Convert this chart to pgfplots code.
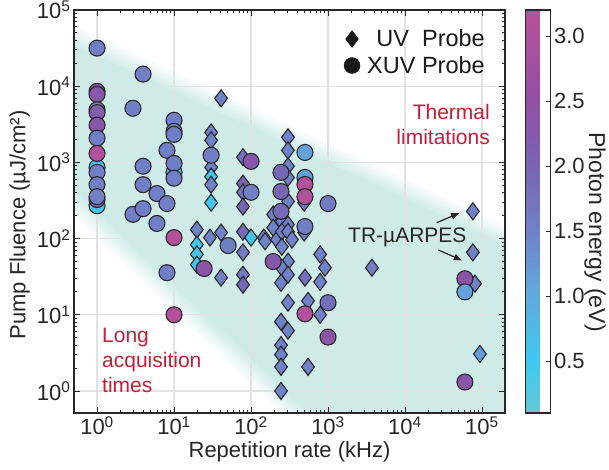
\documentclass[border=0pt]{standalone}
\usepackage{pgfplots}
\pgfplotsset{compat=1.18}
\usepackage{pgfplotstable}
\usepackage{fontspec}
\setmainfont{Liberation Sans}
\usetikzlibrary{arrows.meta}
\definecolor{axgray}{RGB}{40,40,40}
\definecolor{gridgray}{RGB}{226,226,226}
\definecolor{bandteal}{RGB}{206,235,232}
\definecolor{annred}{RGB}{196,30,58}
\pgfplotsset{
  colormap={photon}{rgb255(0cm)=(100,200,212) rgb255(4cm)=(64,200,240) rgb255(9cm)=(95,170,222) rgb255(14cm)=(112,130,200) rgb255(19cm)=(120,100,180) rgb255(24cm)=(145,80,162) rgb255(31cm)=(185,80,155)}
}
\pgfplotstableread{
x y c
40.8 6940 1.5
30.3 2470 1.55
30.3 1950 1.5
30.3 860 1.55
30.3 650 0.55
30.3 510 1.5
30.3 296 0.55
19.8 131 1.5
19.8 83 0.55
19.8 62 0.55
19.8 45.5 0.55
29.3 103 1.5
40.8 120 1.5
40.8 30.7 1.55
78.6 1170 1.8
78.6 527 2.0
78.6 405 1.8
78.6 263 2.0
78.6 123 1.9
78.6 66 1.6
78.6 33.6 1.6
78.6 24.8 1.9
100 103 0.55
147 103 1.5
194 207 1.55
194 139 1.5
217 97 1.5
302 2140 1.5
302 1440 1.5
302 890 1.5
302 630 1.5
302 308 1.55
251 167 1.5
302 153 1.5
251 123 1.55
302 123 1.5
340 97 1.5
152 92 1.5
251 78 1.5
790 62 1.5
912 41.5 1.5
302 50 1.5
251 41.5 1.55
302 33.6 1.5
502 30.7 1.8
790 27 1.5
245 26.3 1.5
3720 41.5 1.6
302 14.4 1.5
550 15.2 1.5
790 10 1.5
245 8.1 1.5
302 6.2 1.5
245 4.0 1.5
245 3.0 1.5
245 2.07 1.5
550 2.07 1.5
245 1.0 1.5
76000 228 1.55
76000 66 1.55
81000 25.6 1.5
94000 3.06 1.15
490 296 1.6
490 120 1.6
}\uvdata
\pgfplotstableread{
x y c
1 860 0.55
1 270 0.55
1 31600 1.55
1 8550 2.3
1 7800 2.3
1 4900 1.55
1 4500 2.2
1 3080 2.3
1 2080 1.55
1 1310 3.1
1 740 1.55
1 510 1.55
1 325 2.2
1 355 1.55
2.93 5130 1.55
2.93 208 1.55
3.96 14400 1.55
3.96 890 1.55
3.96 510 1.55
3.96 247 1.55
6.0 390 1.55
6.0 158 1.55
8.1 1440 1.55
8.1 288 1.55
8.1 35.7 1.55
10 740 0.55
10 3570 1.55
10 2560 1.55
10 2330 1.55
10 970 1.55
10 620 1.55
10 103 3.1
10 10 3.1
50.4 81 1.55
24.6 40.5 2.4
194 50 2.3
30.3 1240 1.55
100 1030 2.3
100 405 1.55
502 1350 1.1
502 635 1.1
502 513 3.1
502 355 3.1
1000 288 1.6
502 144 1.55
1000 14.4 1.8
502 10.3 3.1
1000 5.1 2.4
245 740 1.9
245 415 2.0
245 228 1.9
60000 29.7 2.4
60000 20 1.1
60000 1.31 2.4
}\xuvdata
\begin{document}
\begin{tikzpicture}
\begin{axis}[
  at={(0pt,0pt)}, anchor=south west,
  scale only axis, width=431pt, height=403pt,
  set layers,
  xmode=log, ymode=log,
  xmin=0.502, xmax=1.99e5, ymin=0.514, ymax=1e5,
  xtick={1,10,100,1000,10000,100000},
  xticklabels={10\textsuperscript{0},10\textsuperscript{1},10\textsuperscript{2},10\textsuperscript{3},10\textsuperscript{4},10\textsuperscript{5}},
  ytick={1,10,100,1000,10000,100000},
  yticklabels={10\textsuperscript{0},10\textsuperscript{1},10\textsuperscript{2},10\textsuperscript{3},10\textsuperscript{4},10\textsuperscript{5}},
  tick pos=both, tick align=inside,
  major tick length=6pt, minor tick length=3.5pt,
  every tick/.style={axgray, line width=0.9pt},
  axis line style={axgray, line width=1.3pt},
  grid=major, major grid style={gridgray, line width=1.3pt},
  tick label style={font=\fontsize{22}{26}\selectfont, text=black!85},
  label style={font=\fontsize{22}{26}\selectfont, text=black!85},
  xlabel={Repetition rate (kHz)},
  ylabel={Pump Fluence (µJ/cm²)},
  every axis y label/.append style={at={(ticklabel cs:0.4665)}},
  colormap name=photon,
  point meta min=0.1, point meta max=3.2,
  colorbar,
  colorbar style={
    at={(parent axis.north east)}, anchor=north west, xshift=12pt,
    scale only axis, width=25pt, height=403pt,
    ytick={0.5,1,1.5,2,2.5,3},
    yticklabels={0.5,1.0,1.5,2.0,2.5,3.0},
    ytick pos=right, yticklabel pos=right, tick align=inside,
    major tick length=5pt,
    every tick/.style={axgray, line width=0.9pt},
    axis line style={axgray, line width=1.3pt},
    tick label style={font=\fontsize{22}{26}\selectfont, text=black!85},
  },
  legend image code/.code={\path (0pt,-8pt) (30pt,8pt); \draw[mark repeat=2, mark phase=2, #1] plot coordinates {(0pt,0pt) (15pt,0pt) (30pt,0pt)};},
  legend style={at={(rel axis cs:0.9536,0.954)}, anchor=north east, draw=none, fill=none,
    font=\fontsize{23.5}{27}\selectfont, text=black!90, row sep=6pt, inner sep=0pt,
    nodes={inner xsep=0pt, inner ysep=1pt}},
  legend cell align=right,
]
\begin{pgfonlayer}{axis background}
\fill[bandteal, opacity=0.125] (rel axis cs:0,0.9628) -- (rel axis cs:1,0.4668) -- (rel axis cs:1,0) -- (rel axis cs:0.4802,0) -- (rel axis cs:0,0.4867) -- cycle;
\fill[bandteal, opacity=0.142857] (rel axis cs:0,0.9557) -- (rel axis cs:1,0.4597) -- (rel axis cs:1,0) -- (rel axis cs:0.4893,0) -- (rel axis cs:0,0.4959) -- cycle;
\fill[bandteal, opacity=0.166667] (rel axis cs:0,0.9486) -- (rel axis cs:1,0.4526) -- (rel axis cs:1,0) -- (rel axis cs:0.4984,0) -- (rel axis cs:0,0.5051) -- cycle;
\fill[bandteal, opacity=0.2] (rel axis cs:0,0.9415) -- (rel axis cs:1,0.4455) -- (rel axis cs:1,0) -- (rel axis cs:0.5075,0) -- (rel axis cs:0,0.5144) -- cycle;
\fill[bandteal, opacity=0.25] (rel axis cs:0,0.9345) -- (rel axis cs:1,0.4385) -- (rel axis cs:1,0) -- (rel axis cs:0.5165,0) -- (rel axis cs:0,0.5236) -- cycle;
\fill[bandteal, opacity=0.333333] (rel axis cs:0,0.9274) -- (rel axis cs:1,0.4314) -- (rel axis cs:1,0) -- (rel axis cs:0.5256,0) -- (rel axis cs:0,0.5329) -- cycle;
\fill[bandteal, opacity=0.5] (rel axis cs:0,0.9203) -- (rel axis cs:1,0.4243) -- (rel axis cs:1,0) -- (rel axis cs:0.5347,0) -- (rel axis cs:0,0.5421) -- cycle;
\fill[bandteal] (rel axis cs:0,0.9132) -- (rel axis cs:1,0.4172) -- (rel axis cs:1,0) -- (rel axis cs:0.5438,0) -- (rel axis cs:0,0.5513) -- cycle;
\end{pgfonlayer}
\addplot[scatter, only marks, mark=diamond*, mark size=8.5pt, point meta=explicit, forget plot,
  scatter/use mapped color={draw=axgray, fill=mapped color}, mark options={line width=1.1pt}]
  table[x=x, y=y, meta=c] {\uvdata};
\addplot[scatter, only marks, mark=*, mark size=8pt, point meta=explicit, forget plot,
  scatter/use mapped color={draw=axgray, fill=mapped color}, mark options={line width=1.1pt}]
  table[x=x, y=y, meta=c] {\xuvdata};
\addlegendimage{only marks, mark=diamond*, mark size=8.5pt, black!90}
\addlegendentry{UV\ \ Probe}
\addlegendimage{only marks, mark=*, mark size=8pt, black!90}
\addlegendentry{XUV Probe}
\node[annred, align=right, anchor=north east, inner sep=0pt, font=\fontsize{21}{25}\selectfont] at (rel axis cs:0.9652,0.7667) {Thermal\\limitations};
\node[annred, align=left, anchor=north west, inner sep=0pt, font=\fontsize{21}{25}\selectfont] at (rel axis cs:0.065,0.212) {Long\\acquisition\\times};
\node[black!85, anchor=base west, inner sep=0pt, font=\fontsize{21}{25}\selectfont] at (rel axis cs:0.6357,0.4243) {TR-µARPES};
\draw[black!85, line width=1.2pt, -{Latex[length=9pt,width=7pt]}] (rel axis cs:0.8415,0.4722) -- (rel axis cs:0.8956,0.4970);
\draw[black!85, line width=1.2pt, -{Latex[length=9pt,width=7pt]}] (rel axis cs:0.8453,0.4045) -- (rel axis cs:0.9019,0.3779);
\end{axis}
\node[rotate=-90, inner sep=0pt, text=black!85, font=\fontsize{23}{27}\selectfont] at (521pt,181pt) {Photon energy (eV)};
\pgfresetboundingbox
\useasboundingbox (-74pt,-57pt) rectangle (535pt,413pt);
\end{tikzpicture}
\end{document}
